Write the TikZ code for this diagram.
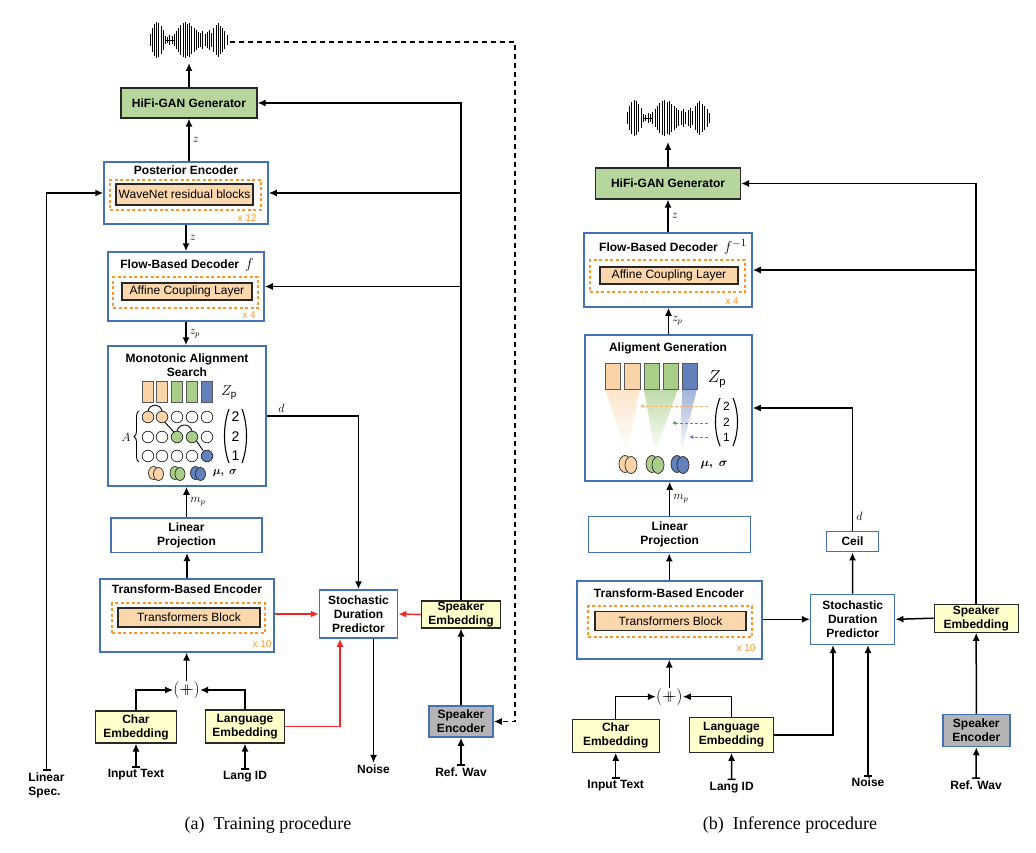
\documentclass[tikz,border=0pt]{standalone}
\usepackage{amsmath}
\usepackage{amssymb}
\usepackage{xcolor}
\usepackage{fontspec}
\setmainfont{Liberation Sans}
\newfontfamily\capfont{Liberation Serif}
\definecolor{boxblue}{RGB}{68,114,186}
\definecolor{hifigreen}{RGB}{183,214,158}
\definecolor{peach}{RGB}{250,215,172}
\definecolor{dashorange}{RGB}{255,150,40}
\definecolor{embyellow}{RGB}{255,255,204}
\definecolor{encgray}{RGB}{180,180,180}
\definecolor{redline}{RGB}{240,40,40}
\definecolor{darkline}{RGB}{40,40,40}
\definecolor{zpeach}{RGB}{250,212,168}
\definecolor{zgreen}{RGB}{168,206,138}
\definecolor{zblue}{RGB}{98,128,188}
\usepackage{tikz}
\usetikzlibrary{arrows.meta,decorations.pathreplacing}

\newcommand{\boxfont}{\bfseries\fontsize{12}{14}\selectfont}
\newcommand{\drawwave}{%
  \foreach \px/\ph in {0/6,2.2/12,4.4/16,6.6/18,8.8/17,11/14,13.2/10,15.4/4,17.6/3,19.8/5,22/4,24.2/6,26.4/9,28.6/12,30.8/15,33/17,35.2/18,37.4/16,39.6/17,41.8/14,44/12,46.2/10,48.4/8,50.6/7,52.8/9,55/6,57.2/8,59.4/10,61.6/7,63.8/12,66/15,68.2/17,70.4/14,72.6/12,74.8/9,77/5}{\draw[line width=1pt] (\px,-\ph)--(\px,\ph);}%
  \draw[line width=0.8pt] (15.4,0)--(24.2,0);%
}

\tikzset{
  conn/.style={line width=1.5pt, -{Latex[length=8pt,width=7pt]}},
  teeconn/.style={line width=1.5pt, {Bar[width=8pt]}-{Latex[length=8pt,width=7pt]}},
  bluebox/.style={draw=boxblue, line width=1.5pt, fill=white, inner sep=0pt},
  hifibox/.style={draw=darkline, fill=hifigreen, line width=1.1pt, inner sep=0pt, font=\boxfont},
  boxtitle/.style={font=\boxfont, align=center, inner sep=0pt},
  loopbox/.style={draw=dashorange, line width=1.4pt, dash pattern=on 3pt off 2.5pt, inner sep=0pt},
  blockbox/.style={draw=darkline, fill=peach, line width=1.1pt, inner sep=0pt, font=\fontsize{12}{14}\selectfont},
  embbox/.style={draw=darkline, fill=embyellow, line width=1.1pt, inner sep=0pt, align=center, font=\boxfont},
  encbox/.style={draw=boxblue, fill=encgray, line width=1.5pt, inner sep=0pt, align=center, font=\boxfont},
  reptext/.style={text=dashorange, font=\fontsize{10}{12}\selectfont, inner sep=0pt},
  iolabel/.style={font=\boxfont, align=center, inner sep=1.5pt},
  mathlbl/.style={font=\fontsize{12}{14}\selectfont, inner sep=3pt},
  zcell/.style={line width=0.8pt, draw=gray!70!black},
  slot/.style={line width=0.7pt, draw=darkline},
  paren/.style={line width=1.1pt}
}

\begin{document}
\begin{tikzpicture}[x=1pt, y=-1pt]
  \useasboundingbox (0,0) rectangle (1036,853);

  \coordinate (waveA) at (189,63);
  \coordinate (waveAend) at (230,42);
  \coordinate (dashA) at (515,721.5);
  \coordinate (waveB) at (668,142);

  \begin{scope}[shift={(150,40)}]
    \drawwave
  \end{scope}
  \begin{scope}[shift={(627,118)}, xscale=1.07]
    \drawwave
  \end{scope}

  \node[hifibox, minimum width=136pt, minimum height=30pt] (hifiA) at (189,103) {HiFi-GAN Generator};

  \node[bluebox, minimum width=164pt, minimum height=62pt] (postA) at (186,193) {};
  \node[boxtitle] at (186,170) {Posterior Encoder};
  \node[loopbox, minimum width=151pt, minimum height=30pt] at (185.5,195) {};
  \node[blockbox, minimum width=137pt, minimum height=21pt] (wnA) at (184.5,194.5) {WaveNet residual blocks};
  \node[reptext] at (247,218) {x 12};

  \node[bluebox, minimum width=156pt, minimum height=69pt] (flowA) at (186,286.5) {};
  \node[boxtitle] at (187,265) {Flow-Based Decoder\hspace{0.5em}{\fontsize{15}{15}\selectfont$f$}};
  \node[loopbox, minimum width=145pt, minimum height=31pt] at (185.5,292.5) {};
  \node[blockbox, minimum width=130pt, minimum height=17pt] (aclA) at (187,291.5) {Affine Coupling Layer};
  \node[reptext] at (249,315) {x 4};

  \node[bluebox, minimum width=158pt, minimum height=140pt] (masA) at (187,416) {};
  \node[boxtitle] at (187,365.5) {Monotonic Alignment\\Search};
  \filldraw[zcell, fill=zpeach] (142,381) rectangle (153,402) (156,381) rectangle (167,402);
  \filldraw[zcell, fill=zgreen] (171,381) rectangle (182,402) (186,381) rectangle (197,402);
  \filldraw[zcell, fill=zblue] (201,381) rectangle (212,402);
  \node at (229,393) {\fontsize{14}{14}\selectfont$Z_{\text{p}}$};
  \filldraw[slot, fill=white] (177,417) circle (5.8pt) (192,417) circle (5.8pt) (207,417) circle (5.8pt);
  \filldraw[slot, fill=white] (148,437) circle (5.8pt) (162,437) circle (5.8pt) (207,437) circle (5.8pt);
  \filldraw[slot, fill=white] (148,456) circle (5.8pt) (162,456) circle (5.8pt) (177,456) circle (5.8pt) (192,456) circle (5.8pt);
  \filldraw[slot, fill=zpeach] (148,417) circle (5.8pt) (162,417) circle (5.8pt);
  \filldraw[slot, fill=zgreen] (177,437) circle (5.8pt) (192,437) circle (5.8pt);
  \filldraw[slot, fill=zblue] (207,456) circle (5.8pt);
  \draw[line width=0.9pt] (148,411) .. controls (150,403) and (160,403) .. (162,411);
  \draw[line width=0.9pt] (177,431) .. controls (179,423) and (190,423) .. (192,431);
  \draw[line width=0.9pt] (165,422.5)--(174,432);
  \draw[line width=0.9pt] (196.5,441)--(203,450.5);
  \node[inner sep=0pt] at (126,437) {\fontsize{12}{12}\selectfont$A$};
  \draw[line width=0.9pt, decorate, decoration={brace, amplitude=5pt}] (139,462)--(139,411);
  \draw[paren] (229,409) .. controls (223,425) and (223,447) .. (229,463);
  \draw[paren] (242,409) .. controls (248,425) and (248,447) .. (242,463);
  \node[font=\fontsize{14}{14}\selectfont] at (235.5,417) {2};
  \node[font=\fontsize{14}{14}\selectfont] at (235.5,437) {2};
  \node[font=\fontsize{14}{14}\selectfont] at (235.5,456) {1};
  \filldraw[slot, fill=zpeach] (153.5,473) ellipse (5pt and 6.5pt);
  \filldraw[slot, fill=zpeach] (158.5,474) ellipse (5pt and 6.5pt);
  \filldraw[slot, fill=zgreen] (175,473) ellipse (5pt and 6.5pt);
  \filldraw[slot, fill=zgreen] (180,474) ellipse (5pt and 6.5pt);
  \filldraw[slot, fill=zblue] (195.5,473) ellipse (5pt and 6.5pt);
  \filldraw[slot, fill=zblue] (200.5,474) ellipse (5pt and 6.5pt);
  \node at (225,473) {\fontsize{11}{11}\selectfont$\boldsymbol{\mu,\ \sigma}$};

  \node[bluebox, minimum width=151pt, minimum height=34.5pt, font=\boxfont, align=center] (linA) at (186.5,535) {Linear\\Projection};

  \node[bluebox, minimum width=174pt, minimum height=73pt] (tfA) at (187,615.3) {};
  \node[boxtitle] at (187,589) {Transform-Based Encoder};
  \node[loopbox, minimum width=153pt, minimum height=30pt] at (188.5,618) {};
  \node[blockbox, minimum width=142pt, minimum height=19pt] (tbA) at (189,617.5) {Transformers Block};
  \node[reptext] at (262,644) {x 10};

  \node[bluebox, minimum width=78pt, minimum height=48pt, font=\boxfont, align=center] (sdpA) at (358.5,614) {Stochastic\\Duration\\Predictor};
  \node[embbox, minimum width=79pt, minimum height=27pt] (spkembA) at (461,614.5) {Speaker\\Embedding};
  \node[encbox, minimum width=64pt, minimum height=31pt] (spkencA) at (461,721.5) {Speaker\\Encoder};
  \node[embbox, minimum width=81pt, minimum height=32pt] (charA) at (136,727) {Char\\Embedding};
  \node[embbox, minimum width=79pt, minimum height=33pt] (langA) at (245,726.5) {Language\\Embedding};
  \node[inner sep=0pt] (catA) at (186.6,690) {\fontsize{17}{17}\selectfont$(\mathbin{+\mkern-11mu+})$};

  \node[iolabel] (inputA) at (136,775) {Input Text};
  \node[iolabel] (langidA) at (245,777) {Lang ID};
  \node[iolabel] (noiseA) at (373.5,769) {Noise};
  \node[iolabel] (refA) at (461,772) {Ref. Wav};
  \node[iolabel, align=left] (specA) at (46.5,785) {Linear\\Spec.};
  \node at (268,825) {\capfont\fontsize{18}{20}\selectfont (a)\hspace{0.5em}Training procedure};

  \draw[conn] (hifiA.north)--(waveA);
  \draw[conn] (hifiA.south |- postA.north)--node[mathlbl,right]{$z$}(hifiA.south);
  \draw[conn] (postA.south)--node[mathlbl,right]{$z$}(postA.south |- flowA.north);
  \draw[conn] (flowA.south)--node[mathlbl,right]{$z_p$}(flowA.south |- masA.north);
  \draw[conn] (linA.north)--node[mathlbl,right]{$m_p$}(linA.north |- masA.south);
  \draw[conn] (tfA.north)--(tfA.north |- linA.south);
  \draw[conn] (catA.north)--(catA.north |- tfA.south);
  \draw[conn] (charA.north)|-(catA.west);
  \draw[conn] (langA.north)|-(catA.east);
  \draw[teeconn] (inputA.north)--(charA.south);
  \draw[teeconn] (langidA.north)--(langA.south);
  \draw[teeconn] (specA.north)|-(postA.west);
  \draw[conn] (masA.east)-|node[mathlbl,pos=0.08,above]{$d$}(sdpA.north);
  \draw[conn, redline] (sdpA.west -| tfA.east)--(sdpA.west);
  \draw[conn, redline] (spkembA.west)--(sdpA.east);
  \draw[conn, redline] (langA.east)-|([xshift=-18.5pt]sdpA.south);
  \draw[conn] ([xshift=15pt]sdpA.south)--([xshift=15pt]sdpA.south |- noiseA.north);
  \draw[conn] (spkencA.north)--(spkembA.south);
  \draw[teeconn] (refA.north)--(spkencA.south);
  \draw[conn] (spkembA.north)|-(hifiA.east);
  \draw[conn] (spkembA.north |- postA.east)--(postA.east);
  \draw[conn] (spkembA.north |- flowA.east)--(flowA.east);
  \draw[conn, dash pattern=on 5pt off 4pt] (waveAend)-|(dashA)--(spkencA.east);

  \node[hifibox, minimum width=145pt, minimum height=31pt] (hifiB) at (668,183.5) {HiFi-GAN Generator};

  \node[bluebox, minimum width=168pt, minimum height=74pt] (flowB) at (668,270) {};
  \node[boxtitle] at (673,247) {Flow-Based Decoder\hspace{0.5em}{\fontsize{15}{15}\selectfont$f^{-1}$}};
  \node[loopbox, minimum width=155pt, minimum height=32pt] at (667.5,276) {};
  \node[blockbox, minimum width=138pt, minimum height=17pt] (aclB) at (669,275.5) {Affine Coupling Layer};
  \node[reptext] at (732,301) {x 4};

  \node[bluebox, minimum width=167pt, minimum height=146pt] (agB) at (668.5,408) {};
  \node[boxtitle] at (668,348) {Aligment Generation};
  \shade[top color=zpeach!60, bottom color=white] (605,389)--(640,389)--(627,453)--cycle;
  \shade[top color=zgreen!75, bottom color=white] (644,389)--(678,389)--(655,453)--cycle;
  \shade[top color=zblue!60, bottom color=white] (682,389)--(697,389)--(681,453)--cycle;
  \filldraw[zcell, fill=zpeach] (605,363) rectangle (620.7,389) (624,363) rectangle (640,389);
  \filldraw[zcell, fill=zgreen] (644,363) rectangle (659,389) (663,363) rectangle (678,389);
  \filldraw[zcell, fill=zblue] (682,363) rectangle (697,389);
  \node at (717,379) {\fontsize{16}{16}\selectfont$Z_{\text{p}}$};
  \draw[line width=0.8pt, dash pattern=on 3pt off 2pt, draw=orange!60, -{Latex[length=4pt,width=4pt]}] (708,406)--(640,406);
  \draw[line width=0.8pt, dash pattern=on 3pt off 2pt, draw=green!50!black!70, -{Latex[length=4pt,width=4pt]}] (708,423)--(672,423);
  \draw[line width=0.8pt, dash pattern=on 3pt off 2pt, draw=zblue, -{Latex[length=4pt,width=4pt]}] (708,437)--(689,437);
  \draw[paren] (720,398) .. controls (714,412) and (714,432) .. (720,446);
  \draw[paren] (733,398) .. controls (739,412) and (739,432) .. (733,446);
  \node[font=\fontsize{12}{12}\selectfont] at (726.5,406) {2};
  \node[font=\fontsize{12}{12}\selectfont] at (726.5,422) {2};
  \node[font=\fontsize{12}{12}\selectfont] at (726.5,437) {1};
  \filldraw[slot, fill=zpeach] (625,464) ellipse (6pt and 8.5pt);
  \filldraw[slot, fill=zpeach] (631,465) ellipse (6pt and 8.5pt);
  \filldraw[slot, fill=zgreen] (652,464) ellipse (6pt and 8.5pt);
  \filldraw[slot, fill=zgreen] (658,465) ellipse (6pt and 8.5pt);
  \filldraw[slot, fill=zblue] (677,464) ellipse (6pt and 8.5pt);
  \filldraw[slot, fill=zblue] (683,465) ellipse (6pt and 8.5pt);
  \node at (714,465) {\fontsize{13}{13}\selectfont$\boldsymbol{\mu,\ \sigma}$};

  \node[bluebox, minimum width=162pt, minimum height=36pt, font=\boxfont, align=center] (linB) at (669.7,534.7) {Linear\\Projection};

  \node[bluebox, minimum width=185pt, minimum height=78pt] (tfB) at (669.3,619.8) {};
  \node[boxtitle] at (669,593) {Transform-Based Encoder};
  \node[loopbox, minimum width=164pt, minimum height=31pt] at (670,621.5) {};
  \node[blockbox, minimum width=151pt, minimum height=19pt] (tbB) at (670.5,621.2) {Transformers Block};
  \node[reptext] at (746,648) {x 10};

  \node[bluebox, minimum width=84pt, minimum height=50pt, font=\boxfont, align=center] (sdpB) at (852.7,619.3) {Stochastic\\Duration\\Predictor};
  \node[bluebox, minimum width=52pt, minimum height=20pt, font=\boxfont] (ceilB) at (852.5,541.7) {Ceil};
  \node[embbox, minimum width=84pt, minimum height=28pt] (spkembB) at (976.2,618.2) {Speaker\\Embedding};
  \node[encbox, minimum width=67pt, minimum height=32pt] (spkencB) at (976.3,730.5) {Speaker\\Encoder};
  \node[embbox, minimum width=87pt, minimum height=33pt] (charB) at (615.7,735.7) {Char\\Embedding};
  \node[embbox, minimum width=84pt, minimum height=35pt] (langB) at (731.5,734.8) {Language\\Embedding};
  \node[inner sep=0pt] (catB) at (669.3,696.7) {\fontsize{17}{17}\selectfont$(\mathbin{+\mkern-11mu+})$};

  \node[iolabel] (inputB) at (615.7,785.7) {Input Text};
  \node[iolabel] (langidB) at (731.7,787.3) {Lang ID};
  \node[iolabel] (noiseB) at (868,782.7) {Noise};
  \node[iolabel] (refB) at (976,785) {Ref. Wav};
  \node at (790,825) {\capfont\fontsize{18}{20}\selectfont (b)\hspace{0.5em}Inference procedure};

  \draw[conn] (hifiB.north)--(waveB);
  \draw[conn] (flowB.north)--node[mathlbl,right]{$z$}(flowB.north |- hifiB.south);
  \draw[conn] (agB.north)--node[mathlbl,right]{$z_p$}(agB.north |- flowB.south);
  \draw[conn] (linB.north)--node[mathlbl,right]{$m_p$}(linB.north |- agB.south);
  \draw[conn] (tfB.north)--(tfB.north |- linB.south);
  \draw[conn] (catB.north)--(catB.north |- tfB.south);
  \draw[conn] (charB.north)|-(catB.west);
  \draw[conn] (langB.north)|-(catB.east);
  \draw[teeconn] (inputB.north)--(charB.south);
  \draw[teeconn] (langidB.north)--(langB.south);
  \draw[conn] (sdpB.west -| tfB.east)--(sdpB.west);
  \draw[conn] (spkembB.west)--(sdpB.east);
  \draw[conn] (langB.east)-|([xshift=-19.7pt]sdpB.south);
  \draw[teeconn] (noiseB.north)--(noiseB.north |- sdpB.south);
  \draw[conn] (sdpB.north)--(ceilB.south);
  \draw[conn] (ceilB.north)|-node[mathlbl,pos=0.06,right]{$d$}(agB.east);
  \draw[conn] (spkencB.north)--(spkembB.south);
  \draw[teeconn] (refB.north)--(spkencB.south);
  \draw[conn] (spkembB.north)|-(hifiB.east);
  \draw[conn] (spkembB.north |- flowB.east)--(flowB.east);
\end{tikzpicture}
\end{document}
